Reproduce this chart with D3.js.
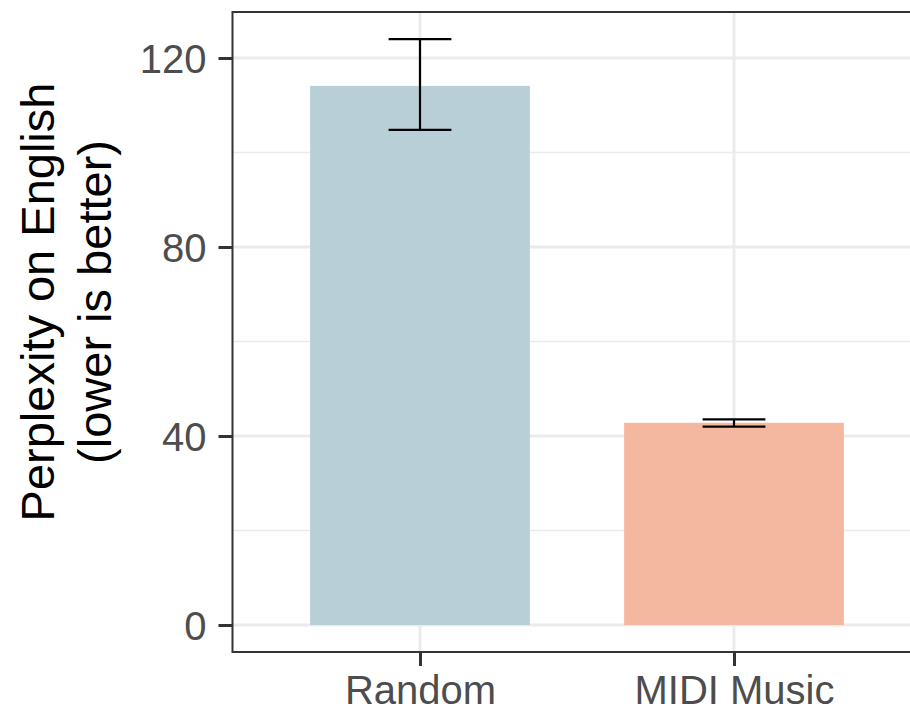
<!DOCTYPE html>
<meta charset="utf-8">
<script src="https://d3js.org/d3.v7.min.js"></script>
<style>
  body { margin: 0; background: #fff; }
  text { font-family: "Liberation Sans", Arial, sans-serif; }
</style>
<div id="chart"></div>
<script>

// data
var categories = ["Random", "MIDI Music"];
var values = [114.1, 42.8];
var errLow = [104.8, 42.0];
var errHigh = [124.0, 43.5];
var barColors = ["#b8cfd8", "#f4b8a0"];
var yTicks = [0, 40, 80, 120];
var yMinor = [20, 60, 100];

var W = 910, H = 712;
// panel box (right edge goes past the picture, as in the original)
var pLeft = 232.5, pTop = 12, pBottom = 652, pRight = 922;

var svg = d3.select("#chart").append("svg")
  .attr("width", W).attr("height", H);

// y: 0 at 625, 120 at 58
var y = d3.scaleLinear().domain([0, 120]).range([625, 58]);

var x = d3.scalePoint().domain(categories).range([420, 734]);
var step = x.step();

// grid
var grid = svg.append("g");
grid.selectAll(".minor").data(yMinor).enter().append("line")
  .attr("x1", pLeft).attr("x2", pRight)
  .attr("y1", function(d) { return y(d) }).attr("y2", function(d) { return y(d) })
  .attr("stroke", "#ebebeb").attr("stroke-width", 1.5);
grid.selectAll(".major").data(yTicks).enter().append("line")
  .attr("x1", pLeft).attr("x2", pRight)
  .attr("y1", function(d) { return y(d) }).attr("y2", function(d) { return y(d) })
  .attr("stroke", "#ebebeb").attr("stroke-width", 3);
grid.selectAll(".vmajor").data(categories).enter().append("line")
  .attr("x1", function(d) { return x(d) }).attr("x2", function(d) { return x(d) })
  .attr("y1", pTop).attr("y2", pBottom)
  .attr("stroke", "#ebebeb").attr("stroke-width", 3);

// bars
var bw = step * 0.7;
svg.selectAll(".bar").data(categories).enter().append("rect")
  .attr("x", function(d) { return x(d) - bw / 2 })
  .attr("width", bw)
  .attr("y", function(d, i) { return y(values[i]) })
  .attr("height", function(d, i) { return y(0) - y(values[i]) })
  .attr("fill", function(d, i) { return barColors[i] });

// error bars
var ew = step * 0.2;
var eb = svg.append("g").attr("stroke", "#000").attr("stroke-width", 2.2).attr("fill", "none");
categories.forEach(function(c, i) {
  eb.append("line").attr("x1", x(c)).attr("x2", x(c))
    .attr("y1", y(errLow[i])).attr("y2", y(errHigh[i]));
  eb.append("line").attr("x1", x(c) - ew / 2).attr("x2", x(c) + ew / 2)
    .attr("y1", y(errLow[i])).attr("y2", y(errLow[i]));
  eb.append("line").attr("x1", x(c) - ew / 2).attr("x2", x(c) + ew / 2)
    .attr("y1", y(errHigh[i])).attr("y2", y(errHigh[i]));
});

// panel border
svg.append("rect")
  .attr("x", pLeft).attr("y", pTop)
  .attr("width", pRight - pLeft).attr("height", pBottom - pTop)
  .attr("fill", "none").attr("stroke", "#333").attr("stroke-width", 2);

// y axis
var yAxis = svg.append("g")
  .attr("transform", "translate(" + pLeft + ",0)")
  .call(d3.axisLeft(y).tickValues(yTicks).tickSize(14).tickPadding(12));
yAxis.select(".domain").remove();
yAxis.selectAll(".tick line").attr("stroke", "#333").attr("stroke-width", 3);
yAxis.selectAll(".tick text")
  .attr("fill", "#4d4d4d").style("font-size", "40px").attr("dy", "0.36em");

// x axis
var xAxis = svg.append("g")
  .attr("transform", "translate(0," + pBottom + ")")
  .call(d3.axisBottom(x).tickSize(14).tickPadding(10));
xAxis.select(".domain").remove();
xAxis.selectAll(".tick line").attr("stroke", "#333").attr("stroke-width", 3);
xAxis.selectAll(".tick text")
  .attr("fill", "#4d4d4d").style("font-size", "40px").attr("dy", "0.71em");

// y title
var yt = svg.append("text")
  .attr("transform", "translate(0,302) rotate(-90)")
  .attr("text-anchor", "middle")
  .style("font-size", "47px")
  .attr("fill", "#000");
yt.append("tspan").attr("x", 0).attr("y", 54).text("Perplexity on English");
yt.append("tspan").attr("x", 0).attr("y", 111).text("(lower is better)");

</script>
